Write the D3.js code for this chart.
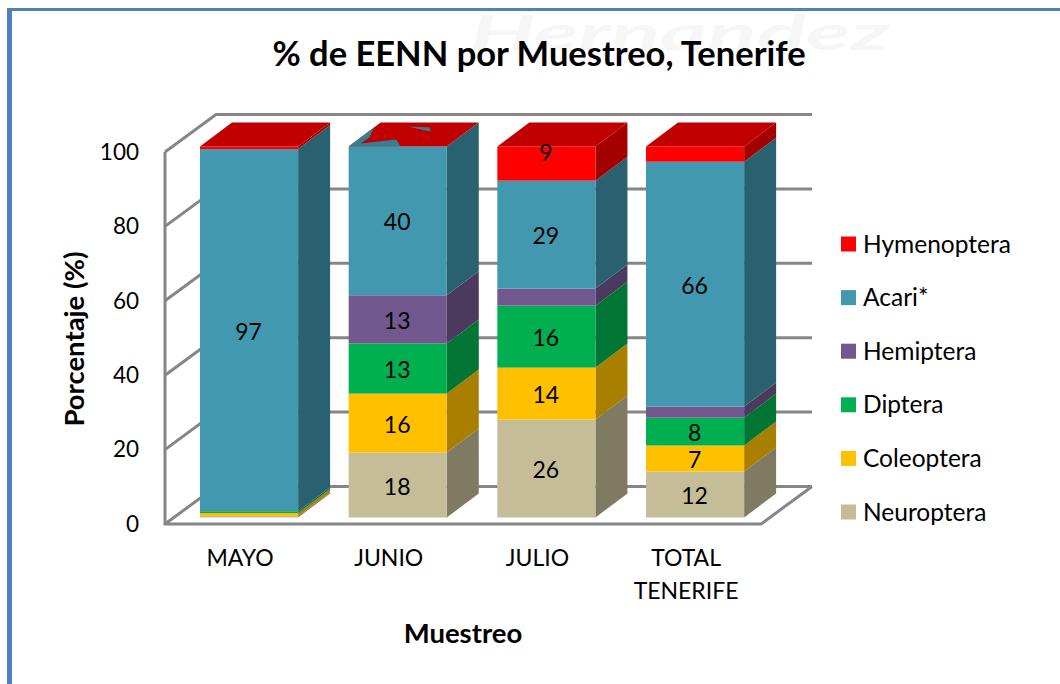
<!DOCTYPE html>
<html>
<head>
<meta charset="utf-8">
<script src="https://cdn.jsdelivr.net/npm/d3@7"></script>
<style>
  html, body { margin: 0; padding: 0; background: #fff; }
  svg { display: block; }
  text { font-family: Lato, "Open Sans", sans-serif; fill: #000; }
</style>
</head>
<body>
<div id="chart"></div>
<script>
const WIDTH = 1060, HEIGHT = 684;

const categories = ["MAYO", "JUNIO", "JULIO", "TOTAL TENERIFE"];
const seriesNames = ["Neuroptera", "Coleoptera", "Diptera", "Hemiptera", "Acari*", "Hymenoptera"];
const neuroptera = [0.4, 17.5, 26.4, 12.4];
const coleoptera = [0.8, 15.9, 14.0, 7.0];
const diptera = [0.5, 13.5, 16.7, 7.5];
const hemiptera = [0, 13.0, 4.6, 3.0];
const acari = [97.6, 40.1, 29.1, 66.0];
const hymenoptera = [0.7, 0, 9.2, 4.1];
const seriesValues = [neuroptera, coleoptera, diptera, hemiptera, acari, hymenoptera];
// printed labels, null where the original shows none
const labelValues = [
  [null, 18, 26, 12],
  [null, 16, 14, 7],
  [null, 13, 16, 8],
  [null, 13, null, null],
  [97, 40, 29, 66],
  [null, null, 9, null]
];
const yTicks = [0, 20, 40, 60, 80, 100];

const frontColors = ["#C4BD97", "#FFC000", "#00B050", "#71588F", "#4198AF", "#FF0000"];
const sideColors = ["#7F7B62", "#A97F00", "#007534", "#4A3A5E", "#2A6171", "#A50000"];
const TOP_RED = "#C00000", TOP_TEAL = "#357F94", GRID = "#868686";

const DEPTH_X = 32, DEPTH_Y = 24; // bar depth
const WALL_X = 51, WALL_Y = 37.5; // chart box depth

const svg = d3.select("#chart").append("svg").attr("width", WIDTH).attr("height", HEIGHT);

// scales
const x = d3.scaleBand().domain(categories).range([174.7, 769.4]).paddingInner(.34).paddingOuter(.17);
const y = d3.scaleLinear().domain([0, 100]).range([517.5, 146.5]);   // bars
const yWall = d3.scaleLinear().domain([0, 100]).range([524, 152]);   // front edge of the left wall

const stack = d3.stack().keys(seriesNames.map((d, i) => i)).value((row, key) => row[key]);
const rows = categories.map((c, j) => seriesValues.map(s => s[j]));
const stacked = stack(rows);

// watermark behind the chart
svg.append("text").attr("x", 470).attr("y", 50)
  .attr("textLength", 420).attr("lengthAdjust", "spacingAndGlyphs")
  .style("font-size", "48px").style("font-style", "italic").style("font-weight", 700).style("fill", "#f6f6f6")
  .text("Hernandez");

// page frame
svg.append("rect").attr("x", 7).attr("y", 8).attr("width", 5).attr("height", HEIGHT - 8).attr("fill", "#4F81BD");
svg.append("rect").attr("x", 7).attr("y", 8).attr("width", WIDTH - 7).attr("height", 3).attr("fill", "#4F81BD");

// walls and gridlines
const wallLeft = 165, wallRight = 761;
const walls = svg.append("g").attr("fill", "none").attr("stroke", GRID).attr("stroke-width", 3);
yTicks.forEach(t => {
  const y0 = yWall(t);
  walls.append("path").attr("d", `M${wallLeft},${y0}L${wallLeft + WALL_X},${y0 - WALL_Y}H${wallRight + WALL_X}`);
});
walls.append("path").attr("d", `M${wallLeft},${yWall(100)}V${yWall(0)}H${wallRight}L${wallRight + WALL_X},${yWall(0) - WALL_Y}`);

// bars
const poly = pts => "M" + pts.map(p => p.join(",")).join("L") + "Z";
const bars = svg.append("g");
categories.forEach((cat, j) => {
  const x0 = x(cat), x1 = x0 + x.bandwidth();
  stacked.forEach((layer, i) => {
    const [a, b] = layer[j];
    if (b - a <= 0) return;
    bars.append("path").attr("fill", sideColors[i])
      .attr("d", poly([[x1, y(a)], [x1, y(b)], [x1 + DEPTH_X, y(b) - DEPTH_Y], [x1 + DEPTH_X, y(a) - DEPTH_Y]]));
    bars.append("rect").attr("x", x0).attr("y", y(b)).attr("width", x.bandwidth())
      .attr("height", y(a) - y(b)).attr("fill", frontColors[i]);
  });
  const yt = y(100);
  bars.append("path").attr("fill", TOP_RED)
    .attr("d", poly([[x0, yt], [x1, yt], [x1 + DEPTH_X, yt - DEPTH_Y], [x0 + DEPTH_X, yt - DEPTH_Y]]));
});

// JUNIO has no Hymenoptera, the top face of the original shows bits of Acari through the red.
// given as [along width, along depth] fractions of that face
const junioPatches = [
  [[0, 0], [0, 1], [0, .79], [.09, .375], [.08, .125], [.39, .29], [.53, 0]],
  [[.33, .83], [.57, .79], [.63, .625]]
];
const jx = x("JUNIO");
junioPatches.forEach(p => {
  bars.append("path").attr("fill", TOP_TEAL).attr("d", poly(p.map(([u, v]) =>
    [jx + u * x.bandwidth() + v * DEPTH_X, y(100) - v * DEPTH_Y])));
});

// value labels
const labelNudge = 1.5; // labels sit slightly under the segment centre
stacked.forEach((layer, i) => {
  layer.forEach((d, j) => {
    const v = labelValues[i][j];
    if (v === null) return;
    // the 9 of JULIO is pushed up against the top in the original
    const cy = v === 9 ? y(d[1]) + 6 : y((d[0] + d[1]) / 2) + labelNudge;
    svg.append("text").attr("class", "value")
      .attr("x", x(categories[j]) + x.bandwidth() / 2 - 0.5).attr("y", cy).attr("dy", ".35em")
      .attr("text-anchor", "middle").style("font-size", "23px").text(v);
  });
});

// y axis
const yAxis = d3.axisLeft(yWall).tickValues(yTicks).tickSize(0).tickPadding(0);
const gy = svg.append("g").attr("transform", "translate(139,0)").call(yAxis);
gy.select(".domain").remove();
gy.selectAll("text").style("font-size", "22.5px").style("font-family", "Lato").attr("fill", "#000");

// x axis, TOTAL TENERIFE wraps on two lines
const xAxis = d3.axisBottom(x).tickSize(0).tickPadding(0);
const gx = svg.append("g").attr("transform", "translate(-9,550)").call(xAxis);
gx.select(".domain").remove();
gx.selectAll("text").style("font-size", "23px").style("font-family", "Lato").attr("fill", "#000")
  .each(function(d) {
    const t = d3.select(this), words = d.split(" ");
    t.text(null);
    words.forEach((w, i) => t.append("tspan").attr("x", 0).attr("dy", i ? 33 : "0.71em").text(w));
  });

// titles
svg.append("text").attr("x", 539).attr("y", 66).attr("text-anchor", "middle")
  .style("font-size", "34.5px").style("font-weight", 700).text("% de EENN por Muestreo, Tenerife");
svg.append("text").attr("x", 463).attr("y", 643).attr("text-anchor", "middle")
  .style("font-size", "27.5px").style("font-weight", 700).text("Muestreo");
svg.append("text").attr("transform", "translate(84,339) rotate(-90)").attr("text-anchor", "middle")
  .style("font-size", "27.5px").style("font-weight", 700).text("Porcentaje (%)");

// legend, top entry is the last series
const legendY = d3.scalePoint().domain(seriesNames.slice().reverse()).range([244, 512]);
const legend = svg.append("g").selectAll("g").data(seriesNames).enter().append("g")
  .attr("transform", d => `translate(841,${legendY(d)})`);
legend.append("rect").attr("y", -7.5).attr("width", 15).attr("height", 15)
  .attr("fill", (d, i) => frontColors[i]);
legend.append("text").attr("x", 22).attr("dy", ".35em").style("font-size", "24.5px").text(d => d);
</script>
</body>
</html>
